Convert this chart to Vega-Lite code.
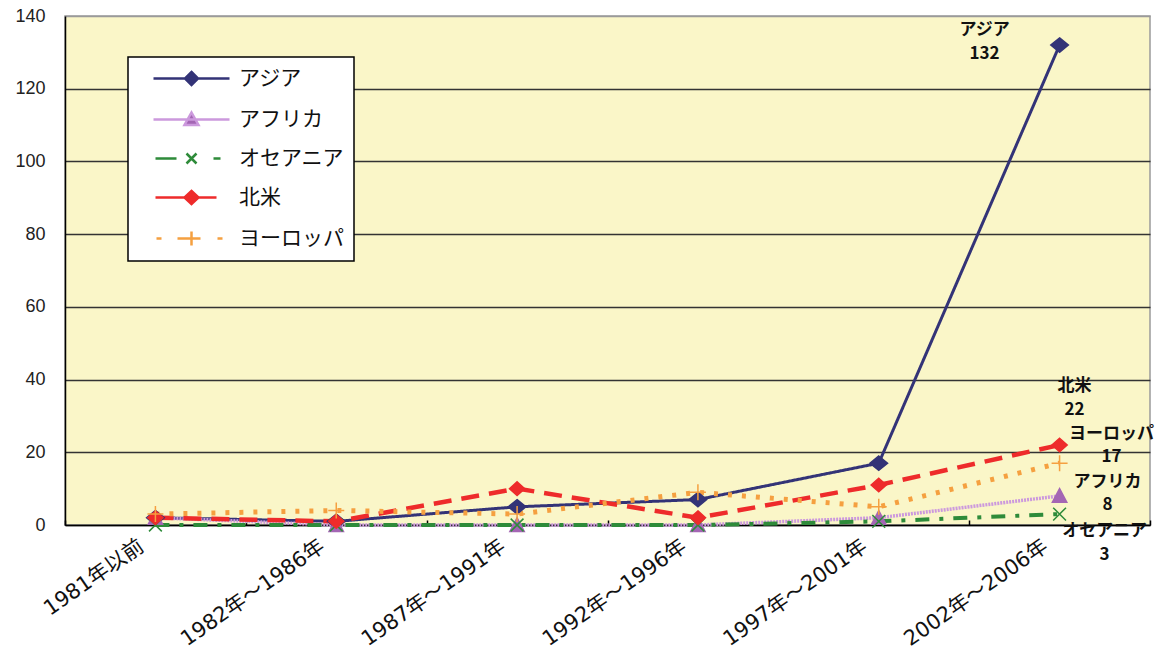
{
  "$schema": "https://vega.github.io/schema/vega-lite/v6.json",
  "width": 1085,
  "height": 509,
  "autosize": {"type": "none"},
  "padding": {"left": 65, "top": 16, "right": 18, "bottom": 132},
  "background": "white",
  "config": {
    "view": {"fill": "#FAF6C8", "stroke": "#9A9A9A", "strokeWidth": 1.5},
    "legend": {
      "orient": "none",
      "legendX": 63,
      "legendY": 41,
      "padding": 10,
      "fillColor": "white",
      "strokeColor": "black",
      "strokeWidth": 1.5,
      "cornerRadius": 0,
      "symbolSize": 400,
      "symbolOffset": 42,
      "symbolStrokeWidth": 2.5,
      "symbolOpacity": 1,
      "labelOffset": 36,
      "rowPadding": 17,
      "labelFont": "Noto Sans CJK JP",
      "labelFontSize": 21,
      "labelColor": "#111",
      "labelLimit": 300
    }
  },
  "data": {
    "values": [
      {"series": "アジア", "period": "1981年以前", "value": 2},
      {"series": "アジア", "period": "1982年～1986年", "value": 1},
      {"series": "アジア", "period": "1987年～1991年", "value": 5},
      {"series": "アジア", "period": "1992年～1996年", "value": 7},
      {"series": "アジア", "period": "1997年～2001年", "value": 17},
      {"series": "アジア", "period": "2002年～2006年", "value": 132},
      {"series": "アフリカ", "period": "1981年以前", "value": 2},
      {"series": "アフリカ", "period": "1982年～1986年", "value": 0},
      {"series": "アフリカ", "period": "1987年～1991年", "value": 0},
      {"series": "アフリカ", "period": "1992年～1996年", "value": 0},
      {"series": "アフリカ", "period": "1997年～2001年", "value": 2},
      {"series": "アフリカ", "period": "2002年～2006年", "value": 8},
      {"series": "オセアニア", "period": "1981年以前", "value": 0},
      {"series": "オセアニア", "period": "1982年～1986年", "value": 0},
      {"series": "オセアニア", "period": "1987年～1991年", "value": 0},
      {"series": "オセアニア", "period": "1992年～1996年", "value": 0},
      {"series": "オセアニア", "period": "1997年～2001年", "value": 1},
      {"series": "オセアニア", "period": "2002年～2006年", "value": 3},
      {"series": "北米", "period": "1981年以前", "value": 2},
      {"series": "北米", "period": "1982年～1986年", "value": 1},
      {"series": "北米", "period": "1987年～1991年", "value": 10},
      {"series": "北米", "period": "1992年～1996年", "value": 2},
      {"series": "北米", "period": "1997年～2001年", "value": 11},
      {"series": "北米", "period": "2002年～2006年", "value": 22},
      {"series": "ヨーロッパ", "period": "1981年以前", "value": 3},
      {"series": "ヨーロッパ", "period": "1982年～1986年", "value": 4},
      {"series": "ヨーロッパ", "period": "1987年～1991年", "value": 3},
      {"series": "ヨーロッパ", "period": "1992年～1996年", "value": 9},
      {"series": "ヨーロッパ", "period": "1997年～2001年", "value": 5},
      {"series": "ヨーロッパ", "period": "2002年～2006年", "value": 17}
    ]
  },
  "encoding": {
    "x": {
      "field": "period",
      "type": "ordinal",
      "sort": null,
      "scale": {
        "type": "band",
        "paddingInner": 0,
        "paddingOuter": 0,
        "domain": ["1981年以前", "1982年～1986年", "1987年～1991年", "1992年～1996年", "1997年～2001年", "2002年～2006年"]
      },
      "axis": {
        "title": null,
        "labelAngle": -35,
        "labelAlign": "right",
        "labelBaseline": "middle",
        "labelFont": "DejaVu Sans, Noto Sans CJK JP",
        "labelFontSize": 21,
        "labelColor": "#111",
        "labelPadding": 24,
        "labelOffset": -14,
        "tickBand": "extent",
        "ticks": true,
        "tickSize": -5,
        "tickColor": "black",
        "tickWidth": 1.5,
        "domainColor": "black",
        "domainWidth": 1.5,
        "grid": false
      }
    },
    "y": {
      "field": "value",
      "type": "quantitative",
      "scale": {"domain": [0, 140], "nice": false},
      "axis": {
        "title": null,
        "values": [0, 20, 40, 60, 80, 100, 120, 140],
        "grid": true,
        "gridColor": {"condition": {"test": "datum.value === 140", "value": "#9A9A9A"}, "value": "#333333"},
        "gridWidth": 1.3,
        "ticks": false,
        "domainColor": "black",
        "domainWidth": 1.5,
        "labelFont": "Liberation Sans",
        "labelFontSize": 18,
        "labelColor": "#222",
        "labelPadding": 20
      }
    }
  },
  "layer": [
    {
      "mark": {"type": "line", "clip": false},
      "encoding": {
        "color": {
          "field": "series",
          "type": "nominal",
          "scale": {
            "domain": ["アジア", "アフリカ", "オセアニア", "北米", "ヨーロッパ"],
            "range": ["#333377", "#CC99DD", "#2E8B3A", "#EE2B2B", "#F5A040"]
          },
          "legend": null
        },
        "strokeDash": {
          "field": "series",
          "type": "nominal",
          "scale": {
            "domain": ["アジア", "アフリカ", "オセアニア", "北米", "ヨーロッパ"],
            "range": [[1, 0], [2, 1], [14, 10, 4, 10], [18, 10], [4, 10]]
          },
          "legend": null
        },
        "strokeWidth": {
          "field": "series",
          "type": "nominal",
          "scale": {
            "domain": ["アジア", "アフリカ", "オセアニア", "北米", "ヨーロッパ"],
            "range": [3, 5, 3, 3, 3]
          },
          "legend": null
        }
      }
    },
    {
      "mark": {"type": "point", "filled": true, "size": 256, "strokeWidth": 1.5, "opacity": 1},
      "encoding": {
        "shape": {
          "field": "series",
          "type": "nominal",
          "scale": {
            "domain": ["アジア", "アフリカ", "オセアニア", "北米", "ヨーロッパ"],
            "range": [
              "M0,-0.9L1.1,0L0,0.9L-1.1,0Z",
              "M0,-0.9L0.9,0.8L-0.9,0.8Z",
              "M-0.8,-0.8L0.8,0.8M-0.8,0.8L0.8,-0.8",
              "M0,-0.85L0.95,0L0,0.85L-0.95,0Z",
              "M-1,0L1,0M0,-1L0,1"
            ]
          },
          "legend": null
        },
        "fill": {
          "field": "series",
          "type": "nominal",
          "scale": {
            "domain": ["アジア", "アフリカ", "オセアニア", "北米", "ヨーロッパ"],
            "range": ["#333377", "#A466B4", "#2E8B3A", "#EE2B2B", "#F5A040"]
          },
          "legend": null
        },
        "stroke": {
          "field": "series",
          "type": "nominal",
          "scale": {
            "domain": ["アジア", "アフリカ", "オセアニア", "北米", "ヨーロッパ"],
            "range": ["#333377", "#A466B4", "#2E8B3A", "#EE2B2B", "#F5A040"]
          },
          "legend": null
        }
      }
    },
    {
      "transform": [{"filter": {"field": "value", "lt": 0}}],
      "mark": {"type": "point", "filled": true, "opacity": 1},
      "encoding": {
        "shape": {
          "field": "series",
          "type": "nominal",
          "title": null,
          "legend": {"labelExpr": "datum.label + '\u3000'"},
          "scale": {
            "domain": ["アジア", "アフリカ", "オセアニア", "北米", "ヨーロッパ"],
            "range": [
              "M-3.8,0H3.8M0,-0.65L0.65,0L0,0.65L-0.65,0Z",
              "M-3.8,0H3.8M0,-0.7L0.7,0.55L-0.7,0.55Z",
              "M-3.6,0H-1.5M-0.5,-0.5L0.5,0.5M-0.5,0.5L0.5,-0.5M2.2,0H2.9",
              "M-3.6,0H2.5M0,-0.65L0.7,0L0,0.65L-0.7,0Z",
              "M-3.5,0H-3.0M-1.4,0H0.9M0,-0.7V0.7M2.6,0H3.1"
            ]
          }
        },
        "fill": {
          "field": "series",
          "type": "nominal",
          "title": null,
          "scale": {
            "domain": ["アジア", "アフリカ", "オセアニア", "北米", "ヨーロッパ"],
            "range": ["#333377", "#A466B4", "#2E8B3A", "#EE2B2B", "#F5A040"]
          }
        },
        "stroke": {
          "field": "series",
          "type": "nominal",
          "title": null,
          "scale": {
            "domain": ["アジア", "アフリカ", "オセアニア", "北米", "ヨーロッパ"],
            "range": ["#333377", "#CC99DD", "#2E8B3A", "#EE2B2B", "#F5A040"]
          }
        }
      }
    },
    {
      "transform": [
        {"filter": "datum.period === '2002年～2006年' && datum.series === 'アジア'"},
        {"calculate": "datum.series + '\\n' + datum.value", "as": "label"}
      ],
      "mark": {"type": "text", "align": "center", "baseline": "top", "lineBreak": "\n", "lineHeight": 24, "dx": -75, "dy": -23, "font": "Noto Sans CJK JP", "fontSize": 17, "fontWeight": "bold", "color": "#111"},
      "encoding": {"text": {"field": "label"}}
    },
    {
      "transform": [
        {"filter": "datum.period === '2002年～2006年' && datum.series === '北米'"},
        {"calculate": "datum.series + '\\n' + datum.value", "as": "label"}
      ],
      "mark": {"type": "text", "align": "center", "baseline": "top", "lineBreak": "\n", "lineHeight": 24, "dx": 15, "dy": -67, "font": "Noto Sans CJK JP", "fontSize": 17, "fontWeight": "bold", "color": "#111"},
      "encoding": {"text": {"field": "label"}}
    },
    {
      "transform": [
        {"filter": "datum.period === '2002年～2006年' && datum.series === 'ヨーロッパ'"},
        {"calculate": "datum.series + '\\n' + datum.value", "as": "label"}
      ],
      "mark": {"type": "text", "align": "center", "baseline": "top", "lineBreak": "\n", "lineHeight": 23, "dx": 52, "dy": -37, "font": "Noto Sans CJK JP", "fontSize": 17, "fontWeight": "bold", "color": "#111"},
      "encoding": {"text": {"field": "label"}}
    },
    {
      "transform": [
        {"filter": "datum.period === '2002年～2006年' && datum.series === 'アフリカ'"},
        {"calculate": "datum.series + '\\n' + datum.value", "as": "label"}
      ],
      "mark": {"type": "text", "align": "center", "baseline": "top", "lineBreak": "\n", "lineHeight": 23, "dx": 48, "dy": -22, "font": "Noto Sans CJK JP", "fontSize": 17, "fontWeight": "bold", "color": "#111"},
      "encoding": {"text": {"field": "label"}}
    },
    {
      "transform": [
        {"filter": "datum.period === '2002年～2006年' && datum.series === 'オセアニア'"},
        {"calculate": "datum.series + '\\n' + datum.value", "as": "label"}
      ],
      "mark": {"type": "text", "align": "center", "baseline": "top", "lineBreak": "\n", "lineHeight": 24, "dx": 45, "dy": 9, "font": "Noto Sans CJK JP", "fontSize": 17, "fontWeight": "bold", "color": "#111"},
      "encoding": {"text": {"field": "label"}}
    }
  ],
  "resolve": {"scale": {"shape": "independent", "fill": "independent", "stroke": "independent"}}
}
